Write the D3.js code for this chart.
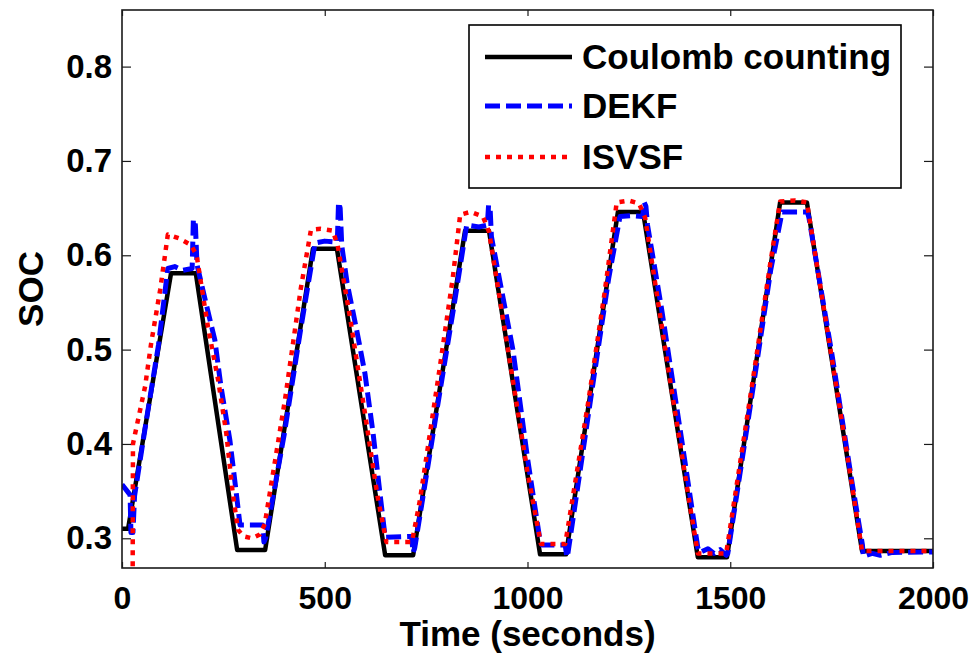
<!DOCTYPE html>
<html>
<head>
<meta charset="utf-8">
<script src="https://cdn.jsdelivr.net/npm/d3@7"></script>
<style>
  html, body { margin: 0; padding: 0; background: #ffffff; }
  svg { display: block; }
  text { font-family: "Liberation Sans", Arial, Helvetica, sans-serif; font-weight: bold; fill: #000; }
</style>
</head>
<body>
<svg id="chart" width="979" height="658"></svg>
<script>
// ---------- data ----------
const seriesNames = ["Coulomb counting", "DEKF", "ISVSF"];

const xTicks = [0, 500, 1000, 1500, 2000];
const xTickLabels = ["0", "500", "1000", "1500", "2000"];
const yTicks = [0.3, 0.4, 0.5, 0.6, 0.7, 0.8];
const yTickLabels = ["0.3", "0.4", "0.5", "0.6", "0.7", "0.8"];

// Coulomb counting (reference)
const ccTime = [0, 15, 121, 182, 284, 353, 471, 530, 649, 718, 846, 905, 1031, 1095, 1223, 1285, 1420, 1492, 1623, 1689, 1825, 2000];
const ccSOC  = [0.31, 0.31, 0.581, 0.581, 0.2876, 0.2876, 0.607, 0.607, 0.282, 0.282, 0.626, 0.626, 0.283, 0.283, 0.646, 0.646, 0.280, 0.280, 0.656, 0.656, 0.2865, 0.2865];

// DEKF
const dekfTime = [0, 20, 22, 27, 31, 60, 90, 113, 130, 150, 173, 176, 181, 185, 205, 229, 244, 266, 281, 291, 347, 350, 354, 400, 440, 476, 500, 531, 534, 538, 542, 555, 580, 599, 619, 636, 649, 714, 718, 722, 780, 820, 850, 880, 901, 904, 908, 911, 925, 964, 1000, 1030, 1035, 1093, 1097, 1100, 1160, 1200, 1228, 1260, 1284, 1288, 1292, 1296, 1330, 1380, 1420, 1425, 1445, 1460, 1475, 1490, 1494, 1560, 1600, 1628, 1690, 1694, 1750, 1800, 1826, 1828, 1850, 1870, 1900, 2000];
const dekfSOC  = [0.357, 0.346, 0.306, 0.306, 0.345, 0.425, 0.505, 0.586, 0.588, 0.584, 0.586, 0.638, 0.632, 0.59, 0.553, 0.51, 0.461, 0.404, 0.351, 0.314, 0.314, 0.296, 0.30, 0.41, 0.52, 0.613, 0.615, 0.614, 0.656, 0.650, 0.61, 0.571, 0.518, 0.475, 0.412, 0.348, 0.301, 0.302, 0.285, 0.29, 0.445, 0.55, 0.632, 0.630, 0.632, 0.653, 0.648, 0.62, 0.588, 0.50, 0.385, 0.30, 0.293, 0.293, 0.28, 0.285, 0.46, 0.575, 0.641, 0.642, 0.641, 0.656, 0.652, 0.632, 0.545, 0.405, 0.29, 0.285, 0.289, 0.284, 0.288, 0.282, 0.284, 0.47, 0.585, 0.646, 0.646, 0.64, 0.497, 0.36, 0.293, 0.281, 0.284, 0.282, 0.285, 0.2855];

// ISVSF
const isvsfTime = [0, 26, 27, 57, 72, 94, 106, 113, 140, 170, 184, 212, 237, 257, 273, 286, 300, 320, 340, 352, 402, 441, 466, 490, 520, 532, 562, 600, 630, 652, 715, 735, 784, 816, 834, 860, 890, 905, 950, 1000, 1033, 1093, 1150, 1190, 1220, 1250, 1275, 1290, 1350, 1400, 1420, 1490, 1560, 1600, 1623, 1660, 1689, 1750, 1800, 1825, 2000];
const isvsfSOC  = [0.2, 0.2, 0.40, 0.461, 0.507, 0.563, 0.60, 0.622, 0.618, 0.611, 0.60, 0.524, 0.468, 0.412, 0.348, 0.309, 0.302, 0.300, 0.304, 0.315, 0.447, 0.565, 0.627, 0.628, 0.626, 0.61, 0.535, 0.43, 0.345, 0.296, 0.296, 0.341, 0.482, 0.577, 0.643, 0.646, 0.641, 0.625, 0.505, 0.37, 0.294, 0.294, 0.445, 0.56, 0.656, 0.658, 0.655, 0.64, 0.472, 0.336, 0.284, 0.284, 0.48, 0.595, 0.657, 0.658, 0.656, 0.492, 0.357, 0.2865, 0.2865];

// ---------- chart ----------
const svg = d3.select("#chart");
const W = 979, H = 658;
const L = 122, R = 933, T = 10, B = 568;

svg.append("rect").attr("width", W).attr("height", H).attr("fill", "#fff");

const x = d3.scaleLinear().domain([0, 2000]).range([L, R]);
const y = d3.scaleLinear().domain([0.2685, 0.86]).range([B, T]);

svg.append("clipPath").attr("id", "plotclip")
  .append("rect").attr("x", L).attr("y", T).attr("width", R - L).attr("height", B - T);

const line = d3.line().x(d => x(d[0])).y(d => y(d[1]));
const zip = (a, b) => a.map((v, i) => [v, b[i]]);

const series = [
  { name: seriesNames[0], pts: zip(ccTime, ccSOC), color: "#000000", width: 4.5, dash: null },
  { name: seriesNames[1], pts: zip(dekfTime, dekfSOC), color: "#0000ff", width: 5, dash: "15,6" },
  { name: seriesNames[2], pts: zip(isvsfTime, isvsfSOC), color: "#ff0000", width: 4.5, dash: "5,6" }
];

const g = svg.append("g").attr("clip-path", "url(#plotclip)");
series.forEach(s => {
  g.append("path")
    .attr("d", line(s.pts))
    .attr("fill", "none")
    .attr("stroke", s.color)
    .attr("stroke-width", s.width)
    .attr("stroke-linejoin", "round")
    .attr("stroke-dasharray", s.dash);
});

// axes box
const axisColor = "#1a1a1a";
svg.append("rect").attr("x", L).attr("y", T).attr("width", R - L).attr("height", B - T)
  .attr("fill", "none").attr("stroke", axisColor).attr("stroke-width", 1.6);

// axes via d3 (inward ticks)
const xAxis = d3.axisBottom(x).tickValues(xTicks).tickFormat((d, i) => xTickLabels[i])
  .tickSizeInner(-6).tickSizeOuter(0).tickPadding(18);
const xg = svg.append("g").attr("transform", `translate(0,${B})`).call(xAxis);
xg.select(".domain").remove();
xg.selectAll("line").attr("stroke", axisColor).attr("stroke-width", 1.2);
xg.selectAll("text").attr("font-size", 32).attr("font-family", "Liberation Sans, Arial, sans-serif").attr("font-weight", "bold").attr("fill", "#000");

const xTop = d3.axisTop(x).tickValues(xTicks).tickFormat("").tickSizeInner(-6).tickSizeOuter(0);
const xtg = svg.append("g").attr("transform", `translate(0,${T})`).call(xTop);
xtg.select(".domain").remove();
xtg.selectAll("line").attr("stroke", axisColor).attr("stroke-width", 1.2);

const yAxis = d3.axisLeft(y).tickValues(yTicks).tickFormat((d, i) => yTickLabels[i])
  .tickSizeInner(-9).tickSizeOuter(0).tickPadding(10);
const yg = svg.append("g").attr("transform", `translate(${L},0)`).call(yAxis);
yg.select(".domain").remove();
yg.selectAll("line").attr("stroke", axisColor).attr("stroke-width", 1.2);
yg.selectAll("text").attr("font-size", 33).attr("font-family", "Liberation Sans, Arial, sans-serif").attr("font-weight", "bold").attr("fill", "#000");

const yRight = d3.axisRight(y).tickValues(yTicks).tickFormat("").tickSizeInner(-9).tickSizeOuter(0);
const yrg = svg.append("g").attr("transform", `translate(${R},0)`).call(yRight);
yrg.select(".domain").remove();
yrg.selectAll("line").attr("stroke", axisColor).attr("stroke-width", 1.2);

// axis labels
svg.append("text").attr("x", (L + R) / 2).attr("y", 646).attr("text-anchor", "middle")
  .attr("font-size", 35).text("Time (seconds)");
svg.append("text").attr("transform", `translate(43,${(T + B) / 2}) rotate(-90)`)
  .attr("text-anchor", "middle").attr("font-size", 35).text("SOC");

// legend
const lg = svg.append("g");
lg.append("rect").attr("x", 469).attr("y", 25).attr("width", 432).attr("height", 163)
  .attr("fill", "#fff").attr("stroke", "#000").attr("stroke-width", 1.6);
const rowBase = [69, 118, 169];
series.forEach((s, i) => {
  const yy = rowBase[i] - 12;
  lg.append("line").attr("x1", 485).attr("x2", 572).attr("y1", yy).attr("y2", yy)
    .attr("stroke", s.color).attr("stroke-width", s.width).attr("stroke-dasharray", s.dash);
  lg.append("text").attr("x", 582).attr("y", rowBase[i]).attr("font-size", 35).text(s.name);
});
</script>
</body>
</html>
